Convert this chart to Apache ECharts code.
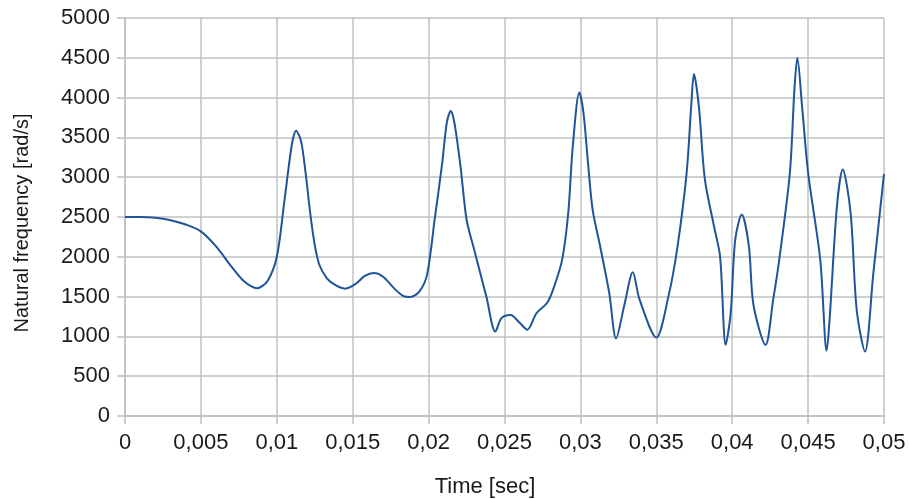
<!DOCTYPE html>
<html>
<head>
<meta charset="utf-8">
<script src="https://cdn.jsdelivr.net/npm/echarts@6/dist/echarts.min.js"></script>
<style>
  html, body { margin: 0; padding: 0; background: #fff; }
  #chart { width: 910px; height: 499px; }
</style>
</head>
<body>
<div id="chart"></div>
<script>
// time [sec]
var times = [
  0, 0.001, 0.002, 0.003, 0.004, 0.005, 0.006, 0.007, 0.0078, 0.0087,
  0.0094, 0.0100, 0.0105, 0.0110, 0.01127, 0.0116, 0.0119, 0.0122, 0.0125, 0.0128,
  0.0133, 0.0139, 0.0145, 0.0152, 0.0158, 0.0164, 0.0170, 0.0177, 0.0183, 0.0188,
  0.0194, 0.0199, 0.0204, 0.0209, 0.0212, 0.02146, 0.0217, 0.0221, 0.0225, 0.0230,
  0.0234, 0.0238, 0.0244, 0.0248, 0.0254, 0.0260, 0.0265, 0.0271, 0.0278, 0.0282,
  0.0288, 0.0292, 0.0295, 0.02993, 0.0302, 0.0305, 0.0308, 0.0313, 0.0319, 0.03235,
  0.0329, 0.03345, 0.0339, 0.0350, 0.0358, 0.0364, 0.0370, 0.0373, 0.03748, 0.0378,
  0.0382, 0.0388, 0.0392, 0.03957, 0.0399, 0.0402, 0.04063, 0.0411, 0.0414, 0.0422,
  0.0427, 0.0431, 0.0438, 0.0441, 0.04429, 0.0446, 0.0450, 0.0458, 0.04622, 0.0464,
  0.0469, 0.04728, 0.0478, 0.0482, 0.04875, 0.0493, 0.0500
]
// natural frequency [rad/s]
var freqs = [
  2500, 2500, 2490, 2460, 2405, 2320, 2130, 1880, 1700, 1605,
  1700, 2000, 2700, 3420, 3585, 3450, 3050, 2550, 2150, 1900,
  1730, 1640, 1600, 1660, 1760, 1795, 1750, 1610, 1510, 1495,
  1566, 1776, 2469, 3183, 3686, 3833, 3686, 3140, 2469, 2091,
  1797, 1503, 1060, 1230, 1268, 1170, 1085, 1290, 1419, 1587,
  1965, 2553, 3392, 4064, 3812, 3183, 2600, 2132, 1545, 975,
  1398, 1805, 1461, 985, 1503, 2132, 3057, 3896, 4295, 3896,
  2972, 2384, 2006, 894, 1293, 2217, 2531, 2132, 1398, 894,
  1461, 1965, 3057, 4106, 4500, 3896, 3057, 1965, 820, 1167,
  2636, 3098, 2553, 1335, 810, 1797, 3040
]

var chart = echarts.init(document.getElementById('chart'))
var textColor = '#1a1a1a'
var gridColor = '#c0c0c0'

chart.setOption({
  animation: false,
  grid: {
    left: 125,
    right: 26,
    top: 18,
    bottom: 83,
    outerBoundsMode: 'none'
  },
  xAxis: {
    type: 'value',
    min: 0,
    max: 0.05,
    interval: 0.005,
    name: 'Time [sec]',
    nameLocation: 'middle',
    nameGap: 60,
    nameTextStyle: {
      color: textColor,
      fontSize: 22,
      fontFamily: 'Liberation Sans',
      padding: [0, 39, 0, 0]
    },
    axisLine: { lineStyle: { color: gridColor, width: 1.5 } },
    axisTick: { show: true, length: 8, lineStyle: { color: gridColor, width: 1.5 } },
    axisLabel: {
      color: textColor,
      fontSize: 22,
      fontFamily: 'Liberation Sans',
      margin: 16,
      formatter: function (v) {
        return v === 0 ? '0' : String(+v.toFixed(3)).replace('.', ',')
      }
    },
    splitLine: { show: true, lineStyle: { color: gridColor, width: 1.5 } }
  },
  yAxis: {
    type: 'value',
    min: 0,
    max: 5000,
    interval: 500,
    name: 'Natural frequency [rad/s]',
    nameLocation: 'middle',
    nameGap: 93,
    nameTextStyle: {
      color: textColor,
      fontSize: 20,
      fontFamily: 'Liberation Sans',
      padding: [0, 12, 0, 0]
    },
    axisLine: { show: true, lineStyle: { color: gridColor, width: 1.5 } },
    axisTick: { show: true, length: 8, lineStyle: { color: gridColor, width: 1.5 } },
    axisLabel: {
      color: textColor,
      fontSize: 22,
      fontFamily: 'Liberation Sans',
      margin: 15,
      formatter: function (v) { return String(v) }
    },
    splitLine: { show: true, lineStyle: { color: gridColor, width: 1.5 } }
  },
  series: [{
    type: 'line',
    data: times.map(function (t, i) { return [t, freqs[i]] }),
    symbol: 'none',
    smooth: 0.3,
    lineStyle: { color: '#1f5597', width: 2 }
  }]
})
</script>
</body>
</html>
